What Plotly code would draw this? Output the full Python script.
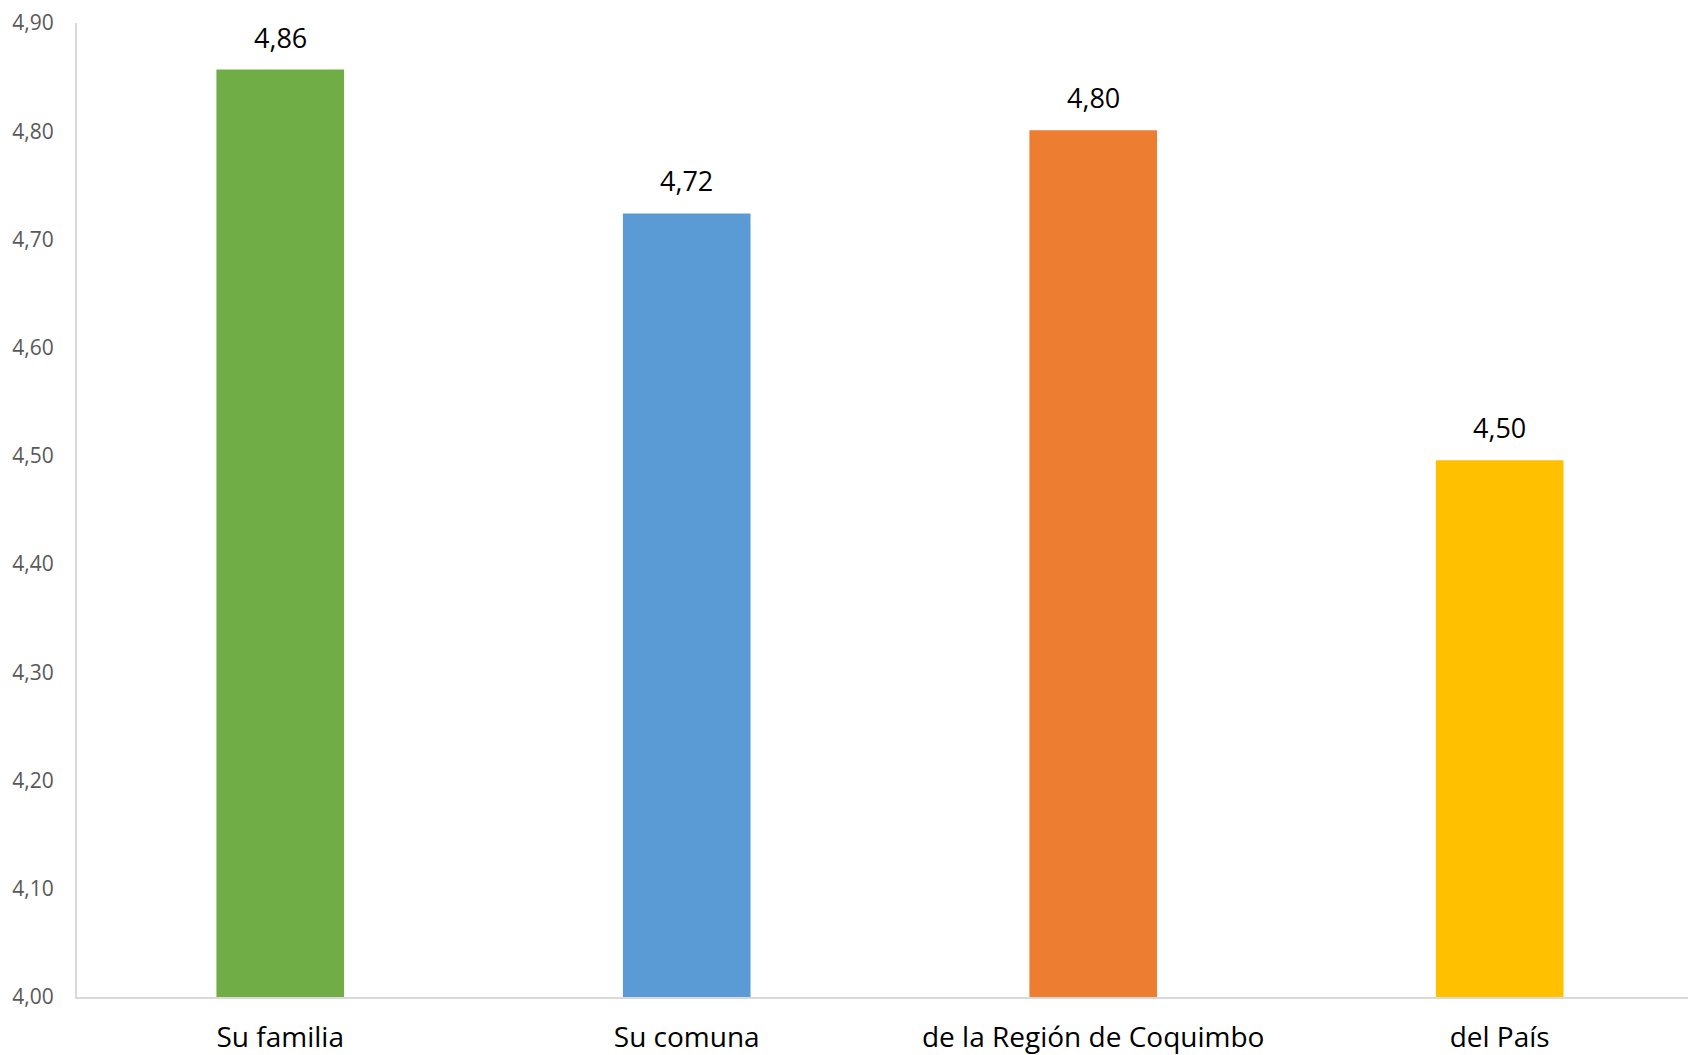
import plotly.graph_objects as go

categories = ["Su familia", "Su comuna", "de la Región de Coquimbo", "del País"]
values = [4.857, 4.724, 4.801, 4.496]
colors = ["#70AD47", "#5B9BD5", "#ED7D31", "#FFC000"]
tick_vals = [4.0, 4.1, 4.2, 4.3, 4.4, 4.5, 4.6, 4.7, 4.8, 4.9]

font_family = "Open Sans, Liberation Sans, sans-serif"

fig = go.Figure()
fig.add_trace(go.Bar(
    x=categories, y=values, marker=dict(color=colors, line=dict(width=0)),
    width=0.314, hoverinfo="skip"
))

for c, v in zip(categories, values):
    fig.add_annotation(
        x=c, y=v, text=f"{v:.2f}".replace(".", ","), showarrow=False,
        yanchor="bottom", yshift=12,
        font=dict(family=font_family, size=27, color="#000000")
    )

fig.update_layout(
    width=1688, height=1047,
    margin=dict(l=69, r=0, t=13, b=58),
    plot_bgcolor="white", paper_bgcolor="white",
    separators=", ",
    showlegend=False,
    xaxis=dict(
        showgrid=False, showline=True, linecolor="#D9D9D9", linewidth=2,
        ticks="", ticklabelstandoff=14,
        tickfont=dict(family=font_family, size=28, color="#000000"),
        range=[-0.5, 3.483],
    ),
    yaxis=dict(
        range=[4.0, 4.9], tickvals=tick_vals, tickformat=".2f",
        showgrid=False, showline=True, linecolor="#D9D9D9", linewidth=2,
        zeroline=False, ticks="", ticklabelstandoff=17,
        ticklabeloverflow="allow",
        tickfont=dict(family=font_family, size=21, color="#595959"),
    ),
)

fig.write_html("out.html")
